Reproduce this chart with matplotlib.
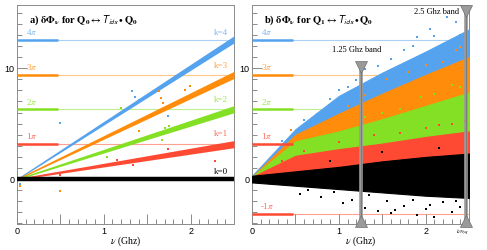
import matplotlib
matplotlib.use("Agg")
import matplotlib.pyplot as plt
import numpy as np

plt.rcParams['font.family'] = ['Liberation Sans', 'DejaVu Sans']
plt.rcParams['mathtext.fontset'] = 'stix'

# colours for k = 0..4
cols = {0: '#000000', 1: '#ff4a33', 2: '#84e024', 3: '#ff8c0a', 4: '#55a3ee'}
light = {1: '#ffa090', 2: '#bdf08a', 3: '#ffc888', 4: '#a9d0f6'}
txtc = {0: '#000000', 1: '#ff6a55', 2: '#9ae84a', 3: '#ffa040', 4: '#7db8f2'}
pi_levels = [-1, 1, 2, 3, 4]

# panel a: narrow bands, read at both ends
a_nu = [0.0, 2.5]
a_mid = {1: [0.0, 3.15], 2: [0.0, 6.3], 3: [0.0, 9.4], 4: [0.0, 12.6]}
a_half = [0.06, 0.32]
a_out_nu = {4: [0.5, 1.32, 1.36, 1.4, 1.74, 0.03],
            3: [1.64, 1.66, 1.68, 1.94, 1.99, 0.5, 1.41, 0.03],
            2: [1.71, 1.67, 1.04, 1.2, 1.75],
            1: [2.28, 1.74, 1.34, 1.15, 0.5]}
a_out_y = {4: [5.1, 7.9, 7.4, 7.1, 5.7, -0.4],
           3: [7.9, 7.3, 6.9, 8.0, 8.4, -1.1, 4.3, -0.6],
           2: [4.6, 3.5, 2.0, 6.4, 4.8],
           1: [1.6, 2.7, 1.3, 1.7, 0.4]}

# panel b: wide clouds, envelope read at six frequencies
b_nu = [0.0, 0.5, 1.0, 1.5, 2.0, 2.5]
b_lo = {4: [0.0, 3.2, 4.8, 6.5, 8.0, 9.0],
        3: [0.0, 2.6, 3.8, 4.6, 5.2, 5.5],
        2: [0.0, 1.9, 2.4, 2.6, 2.6, 2.4],
        1: [0.0, 0.6, 0.6, 0.6, 0.5, 0.4],
        0: [-0.3, -0.6, -0.9, -1.2, -1.5, -1.7]}
b_hi = {4: [0.3, 4.5, 7.5, 9.6, 11.5, 13.5],
        3: [0.2, 4.0, 5.9, 7.7, 9.4, 11.0],
        2: [0.2, 3.4, 4.3, 5.4, 6.6, 7.8],
        1: [0.2, 2.1, 2.7, 3.2, 3.8, 4.3],
        0: [0.3, 0.7, 1.1, 1.6, 2.0, 2.3]}
b_out_nu = {4: [0.75, 0.9, 1.1, 1.3, 1.6, 1.9, 2.05, 2.2, 2.35, 2.4, 2.3, 0.6, 1.45, 1.75, 2.1, 0.35,
                1.0, 1.2, 1.85, 2.25],
            3: [1.0, 1.3, 1.55, 2.2, 2.35, 2.4, 0.8, 1.8, 1.1, 2.0, 0.45],
            2: [0.9, 1.3, 1.7, 2.1, 2.4, 0.6, 1.5, 1.95, 2.3],
            1: [0.6, 1.0, 1.4, 2.0, 2.3, 0.35, 1.7, 2.15, 2.45],
            0: [0.55, 0.8, 1.05, 1.3, 1.45, 1.6, 1.75, 1.9, 2.0, 2.1, 2.2, 2.3, 2.4, 1.5, 2.15, 0.9,
                0.65, 1.15, 1.35, 1.55, 1.85, 2.05, 2.35, 0.95, 1.25, 1.65]}
b_out_y = {4: [5.9, 7.2, 8.3, 9.9, 10.8, 12.8, 13.5, 12.2, 14.2, 13.0, 11.5, 5.3, 10.2, 11.6, 12.9, 3.4,
               8.0, 8.9, 12.0, 14.6],
           3: [5.6, 7.6, 9.0, 10.6, 11.6, 11.9, 4.8, 9.7, 6.6, 10.3, 4.4],
           2: [3.6, 5.6, 6.3, 7.7, 8.3, 2.9, 6.0, 7.4, 8.5],
           1: [2.5, 3.3, 4.0, 4.6, 5.0, 1.6, 4.2, 4.9, 5.2],
           0: [-1.3, -1.6, -2.2, -2.6, -2.9, -3.1, -2.4, -3.2, -2.7, -3.4, -2.1, -3.0, -2.5, 2.4, 2.8, 1.6,
               -1.0, -1.9, -1.4, -2.0, -1.9, -2.3, -2.0, -1.2, -3.3, -2.8]}

fig = plt.figure(figsize=(4.87, 2.5), dpi=100)
ax_a = fig.add_axes([0.0349, 0.104, 0.4456, 0.876])
ax_b = fig.add_axes([0.5175, 0.104, 0.4456, 0.876])

for ax in (ax_a, ax_b):
    ax.set_xlim(0, 2.5)
    ax.set_ylim(-4.05, 15.7)
    ax.set_xticks([0, 0.5, 1, 1.5, 2])
    ax.set_xticklabels(['0', '', '1', '', '2'])
    ax.set_xticks(np.arange(0, 2.5, 0.1), minor=True)
    ax.set_yticks([0, 10])
    ax.set_yticks(np.arange(-4, 16, 1), minor=True)
    ax.tick_params(which='both', direction='in', colors='#777777', labelcolor='black',
                   labelsize=6.5, width=0.6, pad=2)
    ax.tick_params(which='major', length=7)
    ax.tick_params(which='minor', length=3.5)
    for s in ax.spines.values():
        s.set_color('#8a8a8a')
        s.set_linewidth(0.7)
    ax.set_xlabel(r'$\nu$ (Ghz)', fontsize=7, family='Liberation Serif', labelpad=-1)
    # pi reference lines
    for m in pi_levels:
        if ax is ax_a and m < 0:
            continue
        c = cols[abs(m)]
        ax.axhline(m * np.pi, color=light[abs(m)], lw=0.8, zorder=1)
        ax.plot([0, 0.47], [m * np.pi, m * np.pi], color=c, lw=1.8, zorder=6,
                solid_capstyle='butt')
        ax.text(0.17, m * np.pi + 0.25, '%d$\\pi$' % m, color=txtc[abs(m)],
                fontsize=6.5, family='Liberation Serif', va='bottom', ha='center', zorder=7)

# panel a
for k in [4, 3, 2, 1]:
    mid = np.array(a_mid[k])
    half = np.array(a_half)
    ax_a.fill_between(a_nu, mid - half, mid + half, color=cols[k], lw=0, zorder=3)
    ax_a.scatter(a_out_nu[k], a_out_y[k], s=3, color=cols[k], marker='s', lw=0, zorder=3)
ax_a.plot([0, 2.5], [0, 0], color='black', lw=3.2, zorder=4, solid_capstyle='butt')
k_lab_y = {4: 13.2, 3: 10.2, 2: 7.1, 1: 4.05, 0: 0.6}
for k, yy in k_lab_y.items():
    ax_a.text(2.43, yy, 'k=%d' % k, color=txtc[k],
              fontsize=6.5, family='Liberation Serif', ha='right', va='center', zorder=7)
ax_a.text(0.14, 14.3, r'a) $\mathbf{\delta\Phi_{\nu}}$ for $\mathbf{Q_0}\leftrightarrow\mathsf{T}_{\mathsf{idx}}\bullet\mathbf{Q_0}$',
          fontsize=7.5, fontweight='bold', family='Liberation Serif', va='center', zorder=8)

# panel b
for k in [4, 3, 2, 1, 0]:
    ax_b.fill_between(b_nu, b_lo[k], b_hi[k], color=cols[k], lw=0.8, zorder=3)
    ax_b.scatter(b_out_nu[k], b_out_y[k], s=3, color=cols[k], marker='s', lw=0, zorder=3)

# band markers
for nu_b, ytop in [(1.25, 10.4), (2.46, 15.4)]:
    ax_b.plot([nu_b, nu_b], [-4.05, ytop], color='#9a9a9a', lw=2.6, zorder=9,
              solid_capstyle='butt', clip_on=False)
    ax_b.plot([nu_b, nu_b], [-4.05, ytop], color='#707070', lw=0.5, zorder=9, clip_on=False)
    ax_b.plot([nu_b], [ytop - 0.25], marker='v', ms=8, color='#9a9a9a', mec='#707070',
              mew=0.5, zorder=10, clip_on=False)
    ax_b.plot([nu_b], [-3.8], marker='^', ms=8, color='#9a9a9a', mec='#707070',
              mew=0.5, zorder=10, clip_on=False)
ax_b.text(1.21, 11.3, '1.25 Ghz band', fontsize=6, family='Liberation Serif', ha='center',
          va='bottom', zorder=11)
ax_b.text(2.39, 15.1, '2.5 Ghz band', fontsize=6, family='Liberation Serif', ha='right',
          va='center', zorder=11)
ax_b.text(2.43, -4.4, r'$\nu_{Nyq}$', fontsize=5, ha='center', va='top', zorder=11)
ax_b.text(0.14, 14.3, r'b) $\mathbf{\delta\Phi_{\nu}}$ for $\mathbf{Q_1}\leftrightarrow\mathsf{T}_{\mathsf{idx}}\bullet\mathbf{Q_0}$',
          fontsize=7.5, fontweight='bold', family='Liberation Serif', va='center', zorder=8)

fig.savefig('out.png', dpi=100)
